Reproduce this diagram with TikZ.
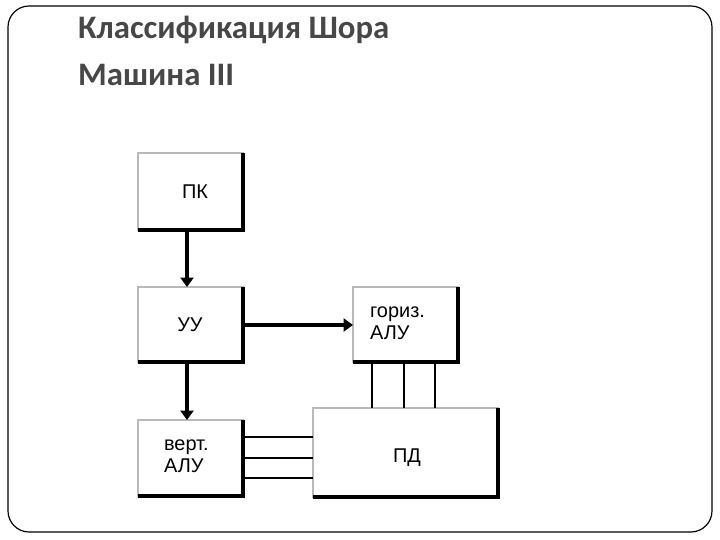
\documentclass[tikz,border=0pt]{standalone}
\usetikzlibrary{arrows.meta}
\usepackage{fontspec}
\setmainfont{Liberation Sans}
\newfontfamily\titlefont{Carlito}
\begin{document}
\begin{tikzpicture}[x=0.03cm,y=-0.03cm,
  boxst/.style={draw=gray!55,line width=2pt,fill=white},
  lbl/.style={font=\fontsize{17pt}{19pt}\selectfont,align=left},
  arr/.style={line width=3.6pt,-{Triangle[length=8pt,width=11pt]}}]
\useasboundingbox (0,0) rectangle (720,540);
\draw[line width=1pt,rounded corners=18] (8,6) rectangle (712,532);
\node[anchor=north west,font=\titlefont\bfseries\fontsize{28pt}{40pt}\selectfont,text=black!72,align=left,inner sep=0] (title) at (78,16) {Классификация Шора\\Машина III};
\newcommand\mybox[5]{%
  \draw[boxst] (#1,#2) rectangle (#3,#4);
  \draw[line width=3pt] (#1,#4) -- (#3,#4) -- (#3,#2);
  \node[lbl] (#5) at ({(#1+#3)/2},{(#2+#4)/2}) {};}
\mybox{138}{153}{243}{230}{pk}
\mybox{138}{287}{243}{362}{uu}
\mybox{353}{287}{458}{362}{hor}
\mybox{138}{420}{243}{496}{ver}
\mybox{313}{408}{498}{497}{pd}
\node[lbl] at (195,192) {ПК};
\node[lbl] at (190,325) {УУ};
\node[lbl,anchor=west] at (366,323) {гориз.\\АЛУ};
\node[lbl,anchor=west] at (160,456) {верт.\\АЛУ};
\node[lbl] at (407,458) {ПД};
\coordinate (a1) at (187,232); \coordinate (a2) at (187,287);
\coordinate (b1) at (245,325); \coordinate (b2) at (353,325);
\coordinate (c1) at (187,364); \coordinate (c2) at (187,420);
\draw[arr] (a1) -- (a2);
\draw[arr] (b1) -- (b2);
\draw[arr] (c1) -- (c2);
\foreach \x in {372,404,435} \draw[line width=1.8pt] (\x,364) -- (\x,408);
\foreach \y in {437,458,478} \draw[line width=1.8pt] (245,\y) -- (313,\y);
\end{tikzpicture}
\end{document}
